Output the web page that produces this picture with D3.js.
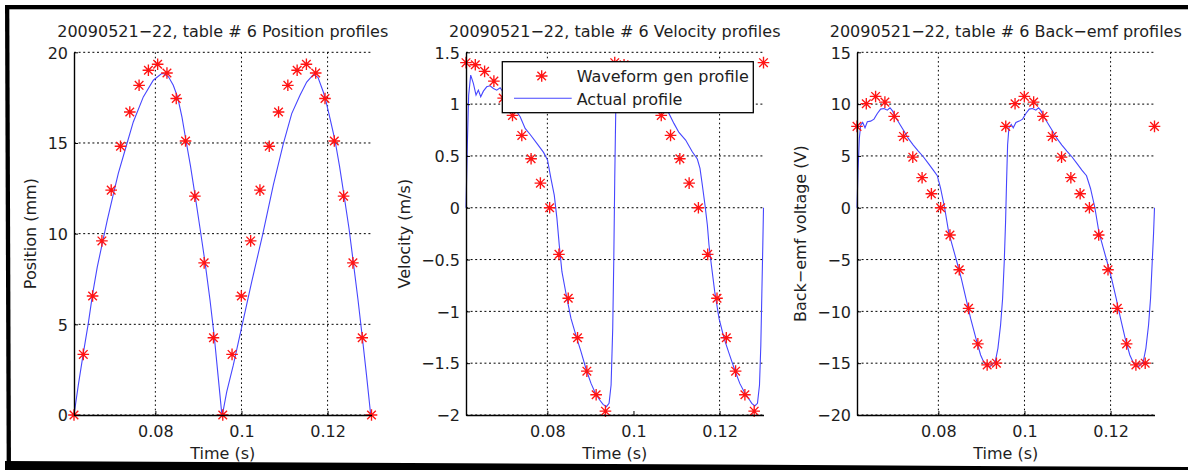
<!DOCTYPE html>
<html>
<head>
<meta charset="utf-8">
<script src="https://cdn.jsdelivr.net/npm/d3@7"></script>
<style>
    body { margin: 0; background: #fff; }
    svg text { font-family: "DejaVu Sans", sans-serif; font-size: 16px; fill: #1e1e1e; }
</style>
</head>
<body>
<svg id="chart" width="1188" height="470"></svg>
<script>

// waveform generator samples (stars), shared time base
var starTime = [0.0611, 0.06326, 0.06542, 0.06758, 0.06974, 0.0719, 0.07406, 0.07622, 0.07838, 0.08053,
    0.08269, 0.08485, 0.08701, 0.08917, 0.09133, 0.09349, 0.09565, 0.09781, 0.09997, 0.10213,
    0.10429, 0.10645, 0.10861, 0.11077, 0.11293, 0.11508, 0.11724, 0.1194, 0.12156, 0.12372,
    0.12588, 0.12804, 0.1302];

var positionStars = [0, 3.34, 6.56, 9.60, 12.40, 14.82, 16.71, 18.18, 19.01, 19.34, 18.86, 17.45, 15.11, 12.07, 8.39, 4.26,
    0, 3.34, 6.56, 9.60, 12.40, 14.82, 16.71, 18.18, 19.01, 19.34, 18.86, 17.45, 15.11, 12.07, 8.39, 4.26, 0];

var velocityStars = [1.40, 1.38, 1.316, 1.222, 1.058, 0.891, 0.698, 0.473, 0.237, 0, -0.45, -0.873, -1.255, -1.577, -1.805, -1.963,
    1.40, 1.38, 1.316, 1.222, 1.058, 0.891, 0.698, 0.473, 0.237, 0, -0.45, -0.873, -1.255, -1.577, -1.805, -1.963, 1.40];

var backEmfStars = [7.85, 10.04, 10.74, 10.19, 8.81, 6.88, 4.88, 2.90, 1.35, 0, -2.63, -5.98, -9.71, -13.14, -15.17, -15.0,
    7.85, 10.04, 10.74, 10.19, 8.81, 6.88, 4.88, 2.90, 1.35, 0, -2.63, -5.98, -9.71, -13.14, -15.17, -15.0, 7.85];

// measured (actual) profiles, [time, value]
var positionActual = [
    [0.0611, 0], [0.0621, 1.65], [0.06326, 3.40], [0.06442, 5.05], [0.06544, 6.71], [0.06651, 8.17],
    [0.06767, 9.46], [0.06883, 10.74], [0.07009, 12.03], [0.07139, 13.32], [0.07295, 14.60], [0.07487, 16.16],
    [0.0772, 17.54], [0.07952, 18.46], [0.08147, 18.83], [0.0820, 18.82], [0.08305, 18.65], [0.08416, 18.18],
    [0.08518, 17.52], [0.08618, 16.42], [0.0871, 15.15], [0.08816, 13.72], [0.08921, 12.12], [0.09037, 10.30],
    [0.09153, 8.43], [0.09269, 6.34], [0.09369, 4.30], [0.09455, 2.20], [0.09541, 0.11], [0.09559, 0.03],
    [0.09657, 1.28], [0.0981, 2.75], [0.10019, 5.0], [0.10237, 7.34], [0.10493, 9.96], [0.10739, 12.67],
    [0.10971, 14.95], [0.11167, 16.62], [0.11359, 17.63], [0.11515, 18.36], [0.11668, 18.77], [0.11777, 18.62],
    [0.11901, 17.81], [0.11963, 17.30], [0.12056, 16.36], [0.12172, 15.15], [0.12277, 13.72], [0.12381, 12.12],
    [0.12497, 10.30], [0.12597, 8.43], [0.12707, 6.34], [0.12806, 4.30], [0.12904, 2.20], [0.12997, 0.11]
];

var velocityActual = [
    [0.0611, 0], [0.06141, 0.605], [0.06172, 1.087], [0.06219, 1.28], [0.06281, 1.20], [0.06343, 1.087],
    [0.06397, 1.135], [0.06452, 1.071], [0.06514, 1.125], [0.06591, 1.167], [0.06669, 1.177], [0.06747, 1.151],
    [0.06824, 1.135], [0.06902, 1.158], [0.07135, 1.02], [0.07368, 0.878], [0.07484, 0.765], [0.07601, 0.707],
    [0.07756, 0.621], [0.07911, 0.534], [0.08004, 0.46], [0.08082, 0.283], [0.0816, 0.122], [0.08222, -0.103],
    [0.08276, -0.36], [0.08338, -0.617], [0.08439, -0.842], [0.08548, -1.068], [0.08672, -1.244], [0.08781, -1.389],
    [0.08905, -1.566], [0.09014, -1.695], [0.09115, -1.791], [0.09216, -1.855], [0.09293, -1.897], [0.09371, -1.92],
    [0.09433, -1.887], [0.0948, -1.711], [0.09518, -1.164], [0.09542, -0.521], [0.09565, 0.283], [0.09588, 0.926],
    [0.0962, 1.28], [0.09674, 1.2], [0.09736, 1.087], [0.0979, 1.135], [0.09844, 1.071], [0.09907, 1.125],
    [0.09984, 1.167], [0.10062, 1.177], [0.1014, 1.151], [0.10217, 1.135], [0.10295, 1.158], [0.10551, 1.02],
    [0.10823, 0.91], [0.10939, 0.814], [0.11056, 0.727], [0.11211, 0.653], [0.11366, 0.54], [0.11483, 0.47],
    [0.11545, 0.379], [0.11599, 0.219], [0.11661, 0.026], [0.11716, -0.167], [0.11754, -0.36], [0.11809, -0.553],
    [0.11887, -0.81], [0.11987, -1.068], [0.12104, -1.26], [0.1222, -1.405], [0.12352, -1.566], [0.12469, -1.695],
    [0.1257, -1.775], [0.12671, -1.839], [0.12748, -1.887], [0.12818, -1.913], [0.1288, -1.887], [0.12927, -1.711],
    [0.12958, -1.325], [0.12981, -0.842], [0.13004, -0.36], [0.1302, 0]
];

var backEmfActual = [
    [0.0611, 0], [0.06133, 3.47], [0.06164, 6.69], [0.06195, 7.97], [0.06242, 8.23], [0.06296, 7.72],
    [0.0635, 8.30], [0.06427, 8.36], [0.06505, 8.55], [0.06582, 9.10], [0.06659, 9.52], [0.06737, 9.58],
    [0.06814, 9.42], [0.06876, 9.65], [0.06938, 9.32], [0.07015, 8.68], [0.07108, 8.04], [0.07201, 7.40],
    [0.07302, 6.69], [0.07418, 6.05], [0.07534, 5.47], [0.0765, 4.92], [0.07766, 4.28], [0.07882, 3.63],
    [0.07975, 3.09], [0.08052, 1.86], [0.08145, 0], [0.08238, -2.32], [0.08331, -3.76], [0.08424, -5.14],
    [0.08532, -6.82], [0.0864, -8.75], [0.08749, -10.68], [0.08872, -12.60], [0.08981, -14.21], [0.09058, -14.92],
    [0.09136, -15.24], [0.09197, -15.34], [0.09259, -15.11], [0.09321, -14.86], [0.09383, -13.57], [0.09445, -11.32],
    [0.09492, -8.75], [0.0953, -5.21], [0.09561, -1.35], [0.09584, 2.51], [0.09608, 6.05], [0.09639, 7.72],
    [0.09693, 8.04], [0.09739, 7.72], [0.09801, 8.23], [0.09878, 8.36], [0.09956, 8.55], [0.10033, 9.10],
    [0.10111, 9.52], [0.10188, 9.58], [0.10265, 9.42], [0.10327, 9.65], [0.10389, 9.32], [0.10466, 8.68],
    [0.10559, 8.04], [0.10652, 7.40], [0.10753, 6.69], [0.10869, 6.05], [0.10985, 5.47], [0.11101, 4.92],
    [0.11217, 4.28], [0.11333, 3.63], [0.11441, 3.09], [0.11534, 1.86], [0.11635, 0], [0.11728, -2.32],
    [0.11821, -3.76], [0.11914, -5.14], [0.12022, -6.82], [0.1213, -8.75], [0.12231, -10.68], [0.12339, -12.60],
    [0.12447, -14.21], [0.12525, -14.92], [0.12595, -15.24], [0.12649, -15.34], [0.12703, -15.11], [0.12758, -14.86],
    [0.1282, -13.57], [0.12882, -11.32], [0.12928, -8.75], [0.12967, -5.21], [0.12998, -2.5], [0.1302, 0]
];

var timeDomain = [0.0611, 0.1302];
var timeTicks = [0.08, 0.1, 0.12];
var positionTicks = [0, 5, 10, 15, 20];
var velocityTicks = [-2, -1.5, -1, -0.5, 0, 0.5, 1, 1.5];
var backEmfTicks = [-20, -15, -10, -5, 0, 5, 10, 15];

var titles = ["20090521\u221222, table # 6 Position profiles",
    "20090521\u221222, table # 6 Velocity profiles",
    "20090521\u221222, table # 6 Back\u2212emf profiles"];
var yLabels = ["Position (mm)", "Velocity (m/s)", "Back\u2212emf voltage (V)"];
var legendLabels = ["Waveform gen profile", "Actual profile"];

var svg = d3.select("#chart");

var plotTop = 52.3,
    plotBottom = 415,
    plotWidth = 297.5;

// MATLAB style '*' marker
var asterisk = {
    draw: function(context, size) {
        var r = Math.sqrt(size) / 2,
            d = r * 0.74;
        context.moveTo(-r, 0); context.lineTo(r, 0);
        context.moveTo(0, -r); context.lineTo(0, r);
        context.moveTo(-d, -d); context.lineTo(d, d);
        context.moveTo(-d, d); context.lineTo(d, -d);
    }
};
var starSymbol = d3.symbol().type(asterisk).size(135);

function fmt(d) {
    return (d < 0 ? "\u2212" : "") + Math.abs(d);
}

function drawPanel(p) {
    var x = d3.scaleLinear().domain(timeDomain).range([p.left, p.left + plotWidth]);
    var y = d3.scaleLinear().domain(d3.extent(p.yTicks)).range([plotBottom, plotTop]);
    var g = svg.append("g");

    // dotted grid
    g.selectAll(".hgrid")
        .data(p.yTicks)
        .enter().append("line")
        .attr("x1", p.left).attr("x2", p.left + plotWidth)
        .attr("y1", y).attr("y2", y)
        .style("stroke", "#000")
        .style("stroke-width", 1)
        .style("stroke-dasharray", "2,2.6");

    g.selectAll(".vgrid")
        .data(p.gridX)
        .enter().append("line")
        .attr("x1", x).attr("x2", x)
        .attr("y1", plotTop).attr("y2", plotBottom)
        .style("stroke", "#000")
        .style("stroke-width", 1)
        .style("stroke-dasharray", "1.6,2.8");

    var line = d3.line()
        .x(function(d) { return x(d[0]); })
        .y(function(d) { return y(d[1]); });

    g.append("path")
        .datum(p.actual)
        .attr("d", line)
        .style("fill", "none")
        .style("stroke", "#4646ff")
        .style("stroke-width", 1.1);

    g.selectAll(".star")
        .data(starTime)
        .enter().append("path")
        .attr("transform", function(d, i) { return "translate(" + x(d) + "," + y(p.stars[i]) + ")"; })
        .attr("d", starSymbol)
        .style("fill", "none")
        .style("stroke", "#ff1414")
        .style("stroke-width", 1.35);

    var xAxis = d3.axisBottom(x).tickValues(timeTicks).tickFormat(fmt).tickSizeInner(-4).tickSizeOuter(0);
    var gx = g.append("g")
        .attr("transform", "translate(0," + plotBottom + ")")
        .call(xAxis);
    gx.selectAll("text").attr("y", 22).attr("dy", null);

    var yAxis = d3.axisLeft(y).tickValues(p.yTicks).tickFormat(fmt).tickSizeInner(-4).tickSizeOuter(0);
    var gy = g.append("g")
        .attr("transform", "translate(" + p.left + ",0)")
        .call(yAxis);
    gy.selectAll("text").attr("x", -6).attr("dy", "0.36em");

    g.selectAll(".domain").style("stroke", "#000").style("stroke-width", 1.4);

    g.append("text")
        .attr("x", p.left + plotWidth / 2)
        .attr("y", 36.7)
        .style("text-anchor", "middle")
        .text(p.title);

    g.append("text")
        .attr("x", p.left + plotWidth / 2)
        .attr("y", 459)
        .style("text-anchor", "middle")
        .text("Time (s)");

    g.append("text")
        .attr("transform", "translate(" + p.labelX + "," + ((plotTop + plotBottom) / 2) + ") rotate(-90)")
        .style("text-anchor", "middle")
        .text(p.yLabel);

    if (p.legend) {
        var lg = g.append("g").attr("transform", "translate(" + (p.left + 36.3) + "," + (plotTop + 9.4) + ")");
        lg.append("rect")
            .attr("width", 251).attr("height", 51)
            .style("fill", "#fff")
            .style("stroke", "#000")
            .style("stroke-width", 1.3);
        lg.append("path")
            .attr("transform", "translate(39.4,14.3)")
            .attr("d", starSymbol)
            .style("fill", "none")
            .style("stroke", "#ff1414")
            .style("stroke-width", 1.35);
        lg.append("line")
            .attr("x1", 11.7).attr("x2", 69.4)
            .attr("y1", 36.6).attr("y2", 36.6)
            .style("stroke", "#4646ff")
            .style("stroke-width", 1.1);
        lg.append("text").attr("x", 74.4).attr("y", 20).text(legendLabels[0]);
        lg.append("text").attr("x", 74.4).attr("y", 43.3).text(legendLabels[1]);
    }
}

var panels = [
    { left: 74, yTicks: positionTicks, stars: positionStars, actual: positionActual, gridX: timeTicks,
      title: titles[0], yLabel: yLabels[0], labelX: 35.5, legend: false },
    { left: 466, yTicks: velocityTicks, stars: velocityStars, actual: velocityActual, gridX: [0.08, 0.12],
      title: titles[1], yLabel: yLabels[1], labelX: 410, legend: true },
    { left: 857, yTicks: backEmfTicks, stars: backEmfStars, actual: backEmfActual, gridX: timeTicks,
      title: titles[2], yLabel: yLabels[2], labelX: 806, legend: false }
];

panels.forEach(drawPanel);

// heavy frame around the figure (right edge is cropped away)
svg.append("rect").attr("x", 5).attr("y", 5).attr("width", 1183).attr("height", 4.3).style("fill", "#000");
svg.append("path").attr("d", "M5,5 L9.3,5 L11,470 L6.7,470 Z").style("fill", "#000");
svg.append("path").attr("d", "M5,461 L1188,467 L1188,470 L5,470 Z").style("fill", "#000");

</script>
</body>
</html>
